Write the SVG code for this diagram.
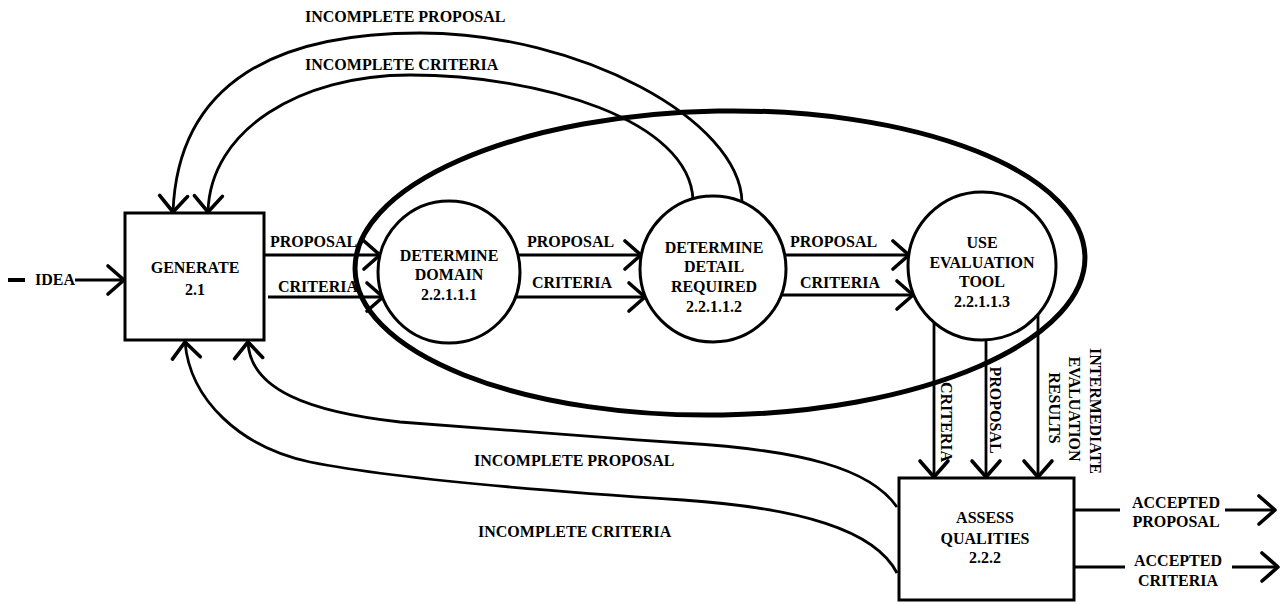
<svg xmlns="http://www.w3.org/2000/svg" width="1280" height="605" viewBox="0 0 1280 605">
<style>
.ln{fill:none;stroke:#000;stroke-width:2.8;}
.arr{marker-end:url(#chev);}
.shape{fill:#fff;stroke:#000;stroke-width:3;}
text{font-family:"Liberation Serif","Times New Roman",serif;font-weight:bold;font-size:16px;fill:#000;}
.c{text-anchor:middle;}
</style>
<defs>
<marker id="chev" markerUnits="userSpaceOnUse" markerWidth="26" markerHeight="36" viewBox="-22 -18 26 36" refX="0" refY="0" orient="auto">
<path d="M-16,-14 L0,0 L-16,14" fill="none" stroke="#000" stroke-width="3.6" stroke-linecap="round" stroke-linejoin="round"/>
</marker>
</defs>
<rect width="1280" height="605" fill="#fff"/>

<g id="scope">
<ellipse cx="720" cy="263" rx="365" ry="152" transform="rotate(-1 720 263)" fill="none" stroke="#000" stroke-width="5"/>
</g>

<g id="connectors">
<!-- idea -->
<line x1="8" y1="280" x2="25" y2="280" stroke="#000" stroke-width="4"/>
<line class="ln arr" x1="75" y1="280" x2="124" y2="280"/>
<!-- generate to domain -->
<line class="ln arr" x1="264" y1="255" x2="380" y2="255"/>
<line class="ln arr" x1="268" y1="297" x2="383" y2="297"/>
<!-- domain to detail -->
<line class="ln arr" x1="518" y1="255" x2="641" y2="255"/>
<line class="ln arr" x1="515" y1="297" x2="645" y2="297"/>
<!-- detail to use -->
<line class="ln arr" x1="785" y1="255" x2="909" y2="255"/>
<line class="ln arr" x1="781" y1="295" x2="913" y2="295"/>
<!-- use to assess -->
<line class="ln arr" x1="934" y1="322" x2="934" y2="477"/>
<line class="ln arr" x1="986" y1="340" x2="986" y2="477"/>
<line class="ln arr" x1="1038" y1="314" x2="1038" y2="477"/>
<!-- top feedback -->
<path class="ln arr" d="M742,202 C740,120 580,33 420,33 C280,33 178,80 173,212"/>
<path class="ln arr" d="M693,200 C690,120 540,75 410,75 C300,75 210,130 208,212"/>
<!-- bottom feedback -->
<path class="ln arr" d="M897,507 C870,468 800,450 683,443 C580,436 470,428 400,422 C310,412 250,390 248,342"/>
<path class="ln arr" d="M897,573 C875,530 800,508 683,500 C560,492 400,480 310,462 C240,447 190,400 185,342"/>
<!-- accepted outputs -->
<line class="ln" x1="1074" y1="510" x2="1120" y2="510"/>
<line class="ln arr" x1="1225" y1="510" x2="1275" y2="510"/>
<line class="ln" x1="1074" y1="567" x2="1125" y2="567"/>
<line class="ln arr" x1="1232" y1="567" x2="1278" y2="567"/>
</g>

<g id="labels">
<text x="35" y="285">IDEA</text>
<text x="270" y="247">PROPOSAL</text>
<text x="278" y="292">CRITERIA</text>
<text x="527" y="247">PROPOSAL</text>
<text x="532" y="288">CRITERIA</text>
<text x="790" y="247">PROPOSAL</text>
<text x="800" y="288">CRITERIA</text>
<text x="305" y="22">INCOMPLETE PROPOSAL</text>
<text x="305" y="70">INCOMPLETE CRITERIA</text>
<text x="474" y="466">INCOMPLETE PROPOSAL</text>
<text x="478" y="537">INCOMPLETE CRITERIA</text>
<text class="c" transform="translate(941,422) rotate(90)">CRITERIA</text>
<text class="c" transform="translate(990,410) rotate(90)">PROPOSAL</text>
<text class="c" transform="translate(1090,411) rotate(90)">INTERMEDIATE</text>
<text class="c" transform="translate(1069,409) rotate(90)">EVALUATION</text>
<text class="c" transform="translate(1049,408) rotate(90)">RESULTS</text>
<text class="c" x="1176" y="508">ACCEPTED</text>
<text class="c" x="1176" y="527">PROPOSAL</text>
<text class="c" x="1178" y="566">ACCEPTED</text>
<text class="c" x="1178" y="586">CRITERIA</text>
</g>

<g id="generate">
<rect class="shape" x="125" y="213" width="139" height="127"/>
<text class="c" x="195" y="273">GENERATE</text>
<text class="c" x="195" y="295">2.1</text>
</g>

<g id="determine-domain">
<circle class="shape" cx="449" cy="272" r="71"/>
<text class="c" x="449" y="261">DETERMINE</text>
<text class="c" x="449" y="280">DOMAIN</text>
<text class="c" x="449" y="300">2.2.1.1.1</text>
</g>

<g id="determine-detail">
<circle class="shape" cx="713" cy="269" r="73"/>
<text class="c" x="714" y="253">DETERMINE</text>
<text class="c" x="714" y="272">DETAIL</text>
<text class="c" x="714" y="292">REQUIRED</text>
<text class="c" x="714" y="312">2.2.1.1.2</text>
</g>

<g id="use-evaluation-tool">
<circle class="shape" cx="982" cy="266" r="74"/>
<text class="c" x="982" y="248">USE</text>
<text class="c" x="982" y="268">EVALUATION</text>
<text class="c" x="982" y="287">TOOL</text>
<text class="c" x="982" y="307">2.2.1.1.3</text>
</g>

<g id="assess-qualities">
<rect class="shape" x="899" y="478" width="175" height="122"/>
<text class="c" x="985" y="523">ASSESS</text>
<text class="c" x="985" y="544">QUALITIES</text>
<text class="c" x="985" y="563">2.2.2</text>
</g>
</svg>
